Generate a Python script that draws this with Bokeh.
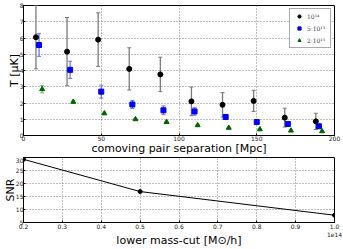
from bokeh.plotting import figure
from bokeh.layouts import column
from bokeh.models import (ColumnDataSource, Whisker, TeeHead, Legend, LegendItem,
                          FixedTicker)
from bokeh.embed import file_html
from bokeh.resources import INLINE

# ---- data (top panel) ----
sep_1e14 = [8, 28, 48, 68, 88, 108, 128, 148, 168, 188]
sep_5e13 = [10, 30, 50, 70, 90, 110, 130, 150, 170, 190]
sep_2e13 = [12, 32, 52, 72, 92, 112, 132, 152, 172, 192]
t_1e14 = [6.05, 5.16, 5.9, 4.1, 3.76, 2.1, 1.89, 2.13, 1.1, 0.87]
err_1e14 = [1.95, 2.1, 1.65, 1.3, 1.06, 0.88, 0.75, 0.65, 0.58, 0.5]
t_5e13 = [5.57, 4.04, 2.7, 1.91, 1.55, 1.48, 1.14, 0.83, 0.71, 0.57]
err_5e13 = [0.7, 0.53, 0.4, 0.25, 0.27, 0.23, 0.15, 0.13, 0.1, 0.1]
t_2e13 = [2.85, 2.07, 1.36, 1.0, 0.83, 0.63, 0.47, 0.38, 0.3, 0.26]
err_2e13 = [0.23, 0.1, 0.07, 0.05, 0.05, 0.04, 0.04, 0.03, 0.03, 0.03]
labels = ["10¹⁴", "5·10¹³", "2·10¹³"]
x_ticks_top = [0, 50, 100, 150, 200]
y_ticks_top = [0, 1, 2, 3, 4, 5, 6, 7, 8]

# ---- data (bottom panel) ----
masscut = [0.2, 0.5, 1.0]   # x 1e14
snr = [29.3, 16.9, 7.8]
x_ticks_bot = [0.2, 0.3, 0.4, 0.5, 0.6, 0.7, 0.8, 0.9, 1.0]
y_ticks_bot = [5, 10, 15, 20, 25, 30]

FONT = "DejaVu Sans"


def style(p):
    p.outline_line_color = "black"
    p.outline_line_width = 1
    p.outline_line_alpha = 1
    for ax in (p.xaxis, p.yaxis):
        ax.major_label_text_font_size = "6px"
        ax.major_label_text_font = FONT
        ax.major_label_text_color = "#222222"
        ax.axis_label_text_font = FONT
        ax.axis_label_text_font_style = "normal"
        ax.axis_label_text_color = "black"
        ax.major_tick_in = 2
        ax.major_tick_out = 0
        ax.minor_tick_line_color = None
        ax.axis_line_color = "black"
        ax.major_label_standoff = 0
    p.yaxis.axis_label_standoff = -4
    p.grid.grid_line_color = "#808080"
    p.grid.grid_line_dash = "1 2"
    p.grid.grid_line_width = 1


p1 = figure(width=343, height=157, x_range=(0, 200), y_range=(0, 8),
            output_backend="svg", toolbar_location=None,
            min_border_left=23, min_border_right=9, min_border_top=5,
            min_border_bottom=0)
style(p1)
p1.xaxis.axis_label_standoff = -2
p1.xaxis.ticker = FixedTicker(ticks=x_ticks_top)
p1.yaxis.ticker = FixedTicker(ticks=y_ticks_top)
p1.xaxis.axis_label = "comoving pair separation [Mpc]"
p1.yaxis.axis_label = "T [μK]"
p1.xaxis.axis_label_text_font_size = "11px"
p1.yaxis.axis_label_text_font_size = "11px"

series = [
    (sep_1e14, t_1e14, err_1e14, "circle", "black", "#7a7a7a", 5),
    (sep_5e13, t_5e13, err_5e13, "square", "#0000ee", "#6f6fff", 5),
    (sep_2e13, t_2e13, err_2e13, "triangle", "#006400", "#6fbf6f", 5),
]
items = []
for (xs, ys, es, mk, col, ecol, sz), lab in zip(series, labels):
    src = ColumnDataSource(dict(x=xs, y=ys,
                                lo=[y - e for y, e in zip(ys, es)],
                                hi=[y + e for y, e in zip(ys, es)]))
    w = Whisker(source=src, base="x", upper="hi", lower="lo",
                line_color=ecol, line_width=1.3,
                upper_head=TeeHead(size=4, line_color=ecol, line_width=1),
                lower_head=TeeHead(size=4, line_color=ecol, line_width=1))
    p1.add_layout(w)
    r = p1.scatter("x", "y", source=src, marker=mk, size=sz,
                   fill_color=col, line_color=col)
    items.append(LegendItem(label=lab, renderers=[r]))

leg = Legend(items=items, location="top_right")
leg.label_text_font = "DejaVu Serif"
leg.label_text_font_size = "6px"
leg.glyph_width = 12
leg.glyph_height = 8
leg.label_height = 8
leg.label_standoff = 2
leg.spacing = 4
leg.padding = 3
leg.margin = 3
leg.border_line_color = "#555555"
leg.border_line_width = 1
leg.background_fill_alpha = 1
p1.add_layout(leg)

p2 = figure(width=343, height=92, x_range=(0.2, 1.0), y_range=(5, 30),
            output_backend="svg", toolbar_location=None,
            min_border_left=23, min_border_right=9, min_border_top=0,
            min_border_bottom=27)
style(p2)
p2.xaxis.axis_label_standoff = -7
p2.xaxis.ticker = FixedTicker(ticks=x_ticks_bot)
p2.xaxis.major_label_overrides = {1.0: "1.0\n1e14"}
p2.yaxis.ticker = FixedTicker(ticks=y_ticks_bot)
p2.xaxis.axis_label = "lower mass-cut [M⊙/h]"
p2.yaxis.axis_label = "SNR"
p2.xaxis.axis_label_text_font_size = "11px"
p2.yaxis.axis_label_text_font_size = "11px"
src2 = ColumnDataSource(dict(x=masscut, y=snr))
p2.line("x", "y", source=src2, line_color="black", line_width=1)
p2.scatter("x", "y", source=src2, marker="circle", size=4, color="black")

layout = column(p1, p2, spacing=0)
open("out.html", "w").write(file_html(layout, INLINE))
